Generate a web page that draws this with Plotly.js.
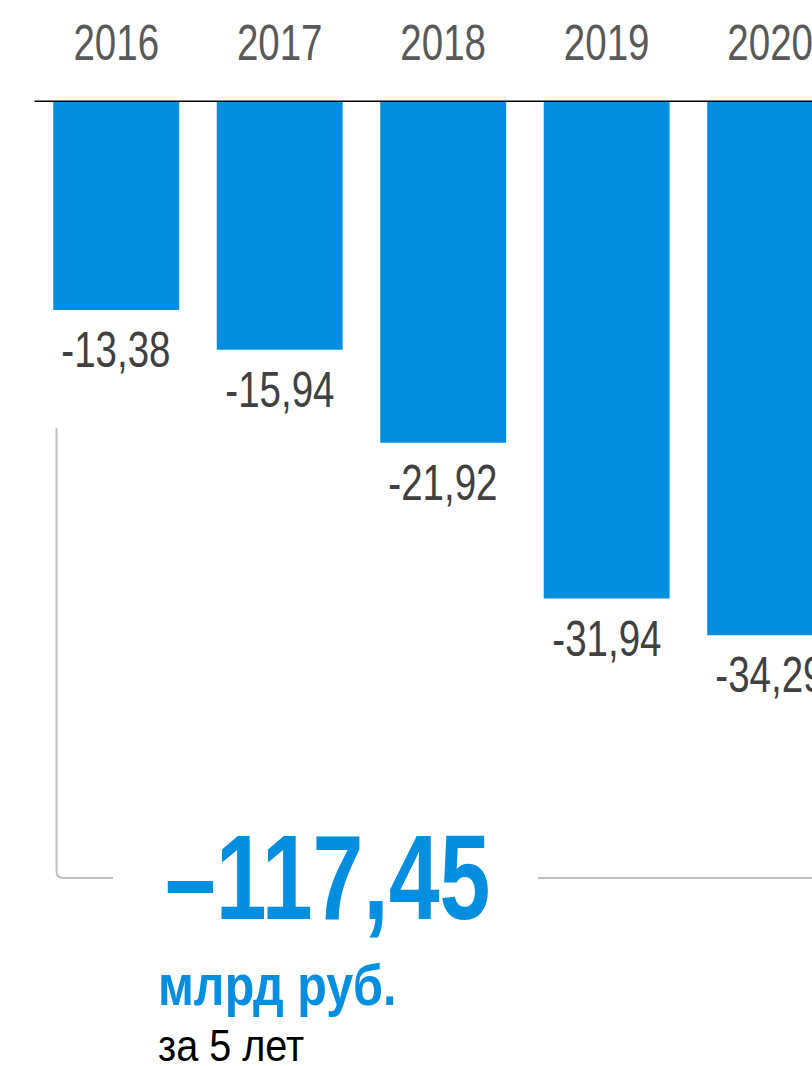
<!DOCTYPE html>
<html>
<head>
<meta charset="utf-8">
<script src="https://cdn.plot.ly/plotly-3.0.1.min.js"></script>
<style>html,body{margin:0;padding:0;background:#fff;overflow:hidden}</style>
</head>
<body>
<div id="chart" style="width:812px;height:1066px"></div>
<script>
const years = ["2016", "2017", "2018", "2019", "2020"];
const values = [-13.38, -15.94, -21.92, -31.94, -34.29];
const valueLabels = ["-13,38", "-15,94", "-21,92", "-31,94", "-34,29"];
const totalLabel = "–117,45";
const unitLabel = "млрд руб.";
const periodLabel = "за 5 лет";

const W = 812, H = 1066, T = 90, B = 0;
const PH = H - T - B;
const px = x => x / W;
const py = y => (H - B - y) / PH;

const FONT = 'Liberation Sans, Arial, sans-serif';
const BLUE = '#048EE0';

const data = [{
  type: 'bar',
  x: years,
  y: values,
  marker: {color: BLUE, line: {width: 0}},
  width: 0.77,
  hoverinfo: 'none'
}];

const annotations = years.map((yr, i) => ({
  x: i, y: values[i], xref: 'x', yref: 'y',
  text: valueLabels[i], showarrow: false,
  xanchor: 'center', yanchor: 'top', yshift: -10,
  font: {family: FONT, size: 50, color: '#404040'}
}));

annotations.push(
  {xref: 'paper', yref: 'paper', x: px(163), y: py(877), xanchor: 'left', yanchor: 'middle',
   text: '<b>' + totalLabel + '</b>', showarrow: false,
   font: {family: FONT, size: 120, color: BLUE}},
  {xref: 'paper', yref: 'paper', x: px(156), y: py(985), xanchor: 'left', yanchor: 'middle',
   text: '<b>' + unitLabel + '</b>', showarrow: false,
   font: {family: FONT, size: 57, color: BLUE}},
  {xref: 'paper', yref: 'paper', x: px(156), y: py(1045), xanchor: 'left', yanchor: 'middle',
   text: periodLabel, showarrow: false,
   font: {family: FONT, size: 44, color: '#000000'}}
);
// horizontal condensation per annotation (to mimic a narrow typeface)
const annScale = [0.77, 0.77, 0.77, 0.77, 0.77, 0.762, 0.85, 0.9];
const annPivotLeft = [false, false, false, false, false, true, true, true];

const r = 7;
const bracketLeft = 'M ' + px(56.5) + ',' + py(428) +
  ' L ' + px(56.5) + ',' + py(878 - r) +
  ' Q ' + px(56.5) + ',' + py(878) + ' ' + px(56.5 + r) + ',' + py(878) +
  ' L ' + px(113) + ',' + py(878);

const shapes = [
  {type: 'line', xref: 'x', yref: 'y', x0: -0.5, x1: 5, y0: 0.05, y1: 0.05,
   line: {color: '#000000', width: 1.5}},
  {type: 'path', xref: 'paper', yref: 'paper', path: bracketLeft,
   line: {color: '#BFBFBF', width: 2}},
  {type: 'line', xref: 'paper', yref: 'paper', x0: px(538), x1: px(812), y0: py(878), y1: py(878),
   line: {color: '#BFBFBF', width: 2}}
];

const layout = {
  width: W, height: H,
  margin: {l: 0, r: 0, t: T, b: B, pad: 0},
  paper_bgcolor: '#fff', plot_bgcolor: '#fff',
  showlegend: false,
  xaxis: {
    type: 'category', side: 'top', range: [-0.711, 4.256],
    showgrid: false, zeroline: false, showline: false, ticks: '',
    ticklabelstandoff: 19,
    tickfont: {family: FONT, size: 50, color: '#595959'},
    fixedrange: true
  },
  yaxis: {
    range: [-62.0, 0.772], visible: false, showgrid: false, zeroline: false, fixedrange: true
  },
  annotations: annotations,
  shapes: shapes
};

function condense(el, s, pivotLeft) {
  const bb = el.getBBox();
  const cx = pivotLeft ? bb.x : bb.x + bb.width / 2;
  const prev = el.getAttribute('transform') || '';
  el.setAttribute('transform', prev + ' translate(' + cx + ',0) scale(' + s + ',1) translate(' + (-cx) + ',0)');
}

Plotly.newPlot('chart', data, layout, {staticPlot: true, displayModeBar: false}).then(gd => {
  gd.querySelectorAll('.xtick text').forEach(t => condense(t, 0.77, false));
  gd.querySelectorAll('.annotation').forEach((g, i) => {
    const t = g.querySelector('text');
    if (t) condense(t, annScale[i], annPivotLeft[i]);
  });
});
</script>
</body>
</html>
